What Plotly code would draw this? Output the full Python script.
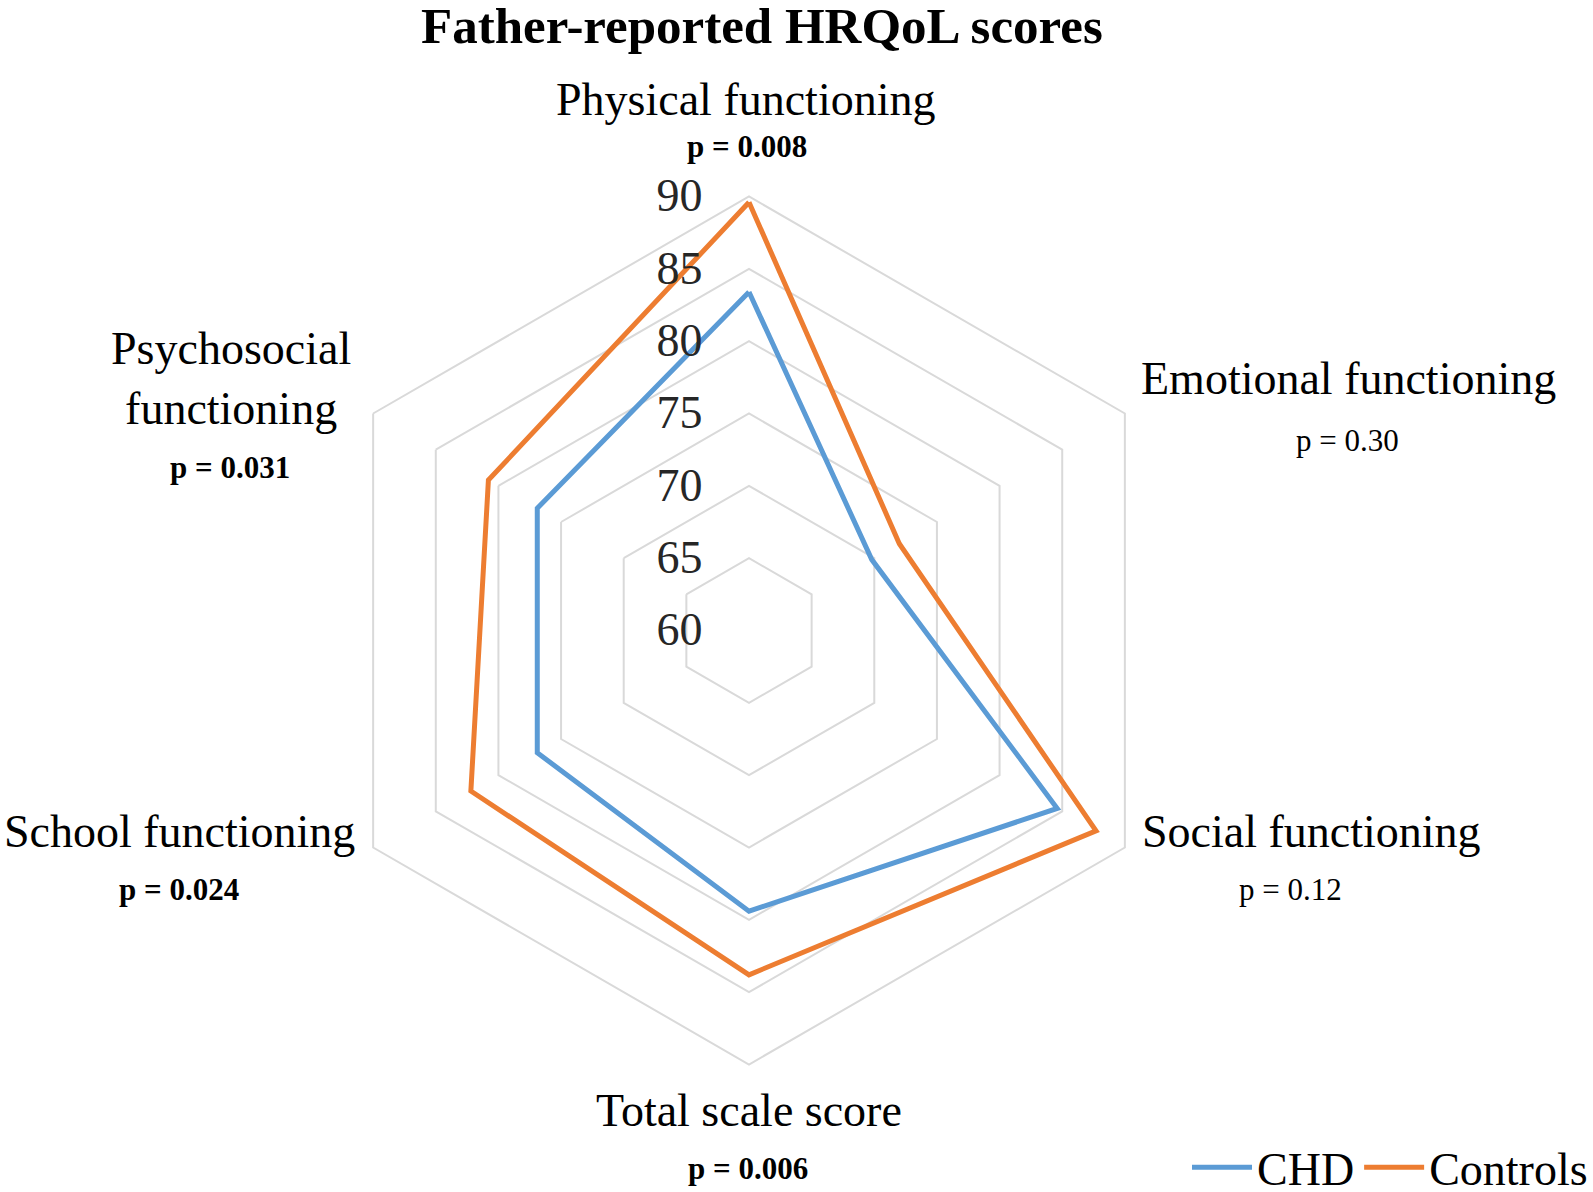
import plotly.graph_objects as go

categories = ["Physical functioning", "Emotional functioning", "Social functioning",
              "Total scale score", "School functioning", "Psychosocial functioning"]
chd = [83.4, 69.8, 84.6, 79.4, 76.9, 76.9]
controls = [89.6, 72.0, 87.7, 83.8, 82.2, 80.8]
p_values = ["p = 0.008", "p = 0.30", "p = 0.12", "p = 0.006", "p = 0.024", "p = 0.031"]
p_bold = [True, False, False, True, True, True]
radial_ticks = [60, 65, 70, 75, 80, 85, 90]

W, H = 1593, 1192
FONT = "Liberation Serif, Times New Roman, serif"
BLUE = "#5B9BD5"
ORANGE = "#ED7D31"
GRID = "#D9D9D9"

fig = go.Figure()
for name, vals, col in [("CHD", chd, BLUE), ("Controls", controls, ORANGE)]:
    fig.add_trace(go.Scatterpolar(
        r=vals + vals[:1], theta=categories + categories[:1],
        mode="lines", name=name,
        line=dict(color=col, width=5),
    ))

cx, cy, R = 749, 630.5, 434
fig.update_layout(
    width=W, height=H,
    margin=dict(l=0, r=0, t=0, b=0, autoexpand=False),
    paper_bgcolor="white", plot_bgcolor="white",
    font=dict(family=FONT, color="#000000"),
    showlegend=True,
    legend=dict(orientation="h", x=1, xanchor="right", y=-0.01, yanchor="bottom",
                font=dict(size=46, family=FONT, color="#000000"),
                bgcolor="rgba(0,0,0,0)", itemwidth=60, tracegroupgap=0),
    polar=dict(
        domain=dict(x=[(cx - R) / W, (cx + R) / W], y=[1 - (cy + R) / H, 1 - (cy - R) / H]),
        bgcolor="white",
        gridshape="linear",
        radialaxis=dict(range=[60, 90], tickvals=radial_ticks, angle=90, tickangle=90,
                        side="counterclockwise", showline=False, showgrid=True,
                        gridcolor=GRID, gridwidth=2,
                        ticks="outside", ticklen=30, tickcolor="rgba(0,0,0,0)",
                        tickfont=dict(size=46, family=FONT, color="#262626")),
        angularaxis=dict(direction="clockwise", rotation=90, showgrid=False,
                         showline=True, linecolor=GRID, linewidth=2,
                         showticklabels=False, ticks=""),
    ),
)

anns = []
anns.append(dict(text="<b>Father-reported HRQoL scores</b>", x=762 / W, y=1 + 4 / H, yanchor="top",
                 font=dict(size=51, family=FONT, color="#000000")))
# category labels (centre x, centre y in px)
label_pos = [(745, 99), (1348, 378), (1311, 831), (749, 1110), (179, 831), (231, 378)]
p_pos = [(747, 147), (1347, 441), (1290, 889), (748, 1168), (179, 889), (230, 467)]
label_text = list(categories)
label_text[5] = "Psychosocial<br>functioning"
for (lx, ly), t in zip(label_pos, label_text):
    anns.append(dict(text=t, x=lx / W, y=1 - ly / H, yanchor="middle",
                     font=dict(size=46, family=FONT, color="#000000")))
for (px, py), t, b in zip(p_pos, p_values, p_bold):
    anns.append(dict(text=f"<b>{t}</b>" if b else t, x=px / W, y=1 - py / H, yanchor="middle",
                     font=dict(size=31, family=FONT, color="#000000")))
for a in anns:
    a.update(xref="paper", yref="paper", showarrow=False, xanchor="center")
fig.update_layout(annotations=anns)

fig.write_html("out.html", config={"displayModeBar": False},
               post_script="document.body.style.margin='0';")
